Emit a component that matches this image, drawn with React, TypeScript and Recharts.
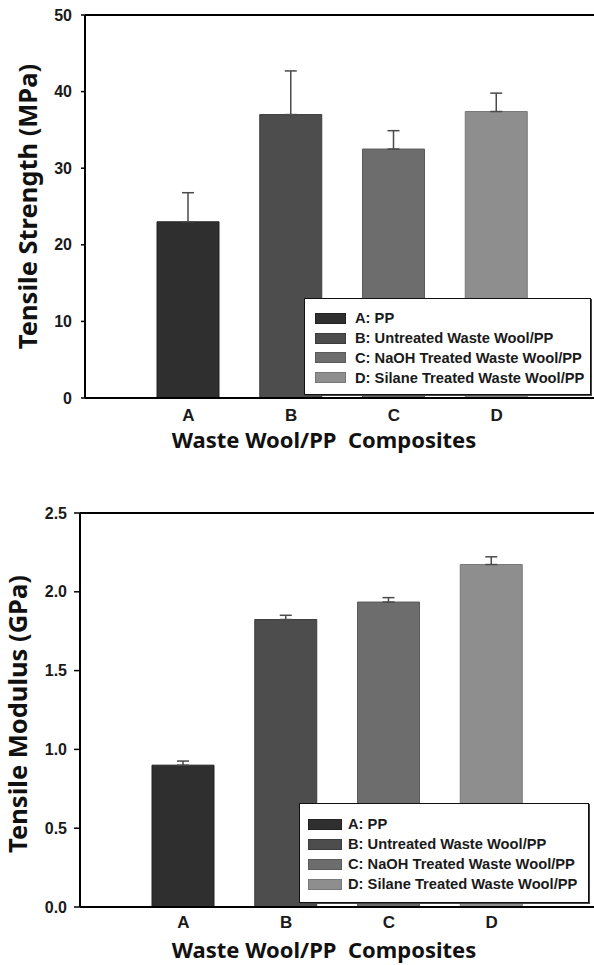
import React from 'react'
import {
	ComposedChart,
	Bar,
	Cell,
	ErrorBar,
	XAxis,
	YAxis,
	Legend,
	Label,
	ReferenceLine,
} from 'recharts'

const categories = ['A', 'B', 'C', 'D']
const legendLabels = [
	'A: PP',
	'B: Untreated Waste Wool/PP',
	'C: NaOH Treated Waste Wool/PP',
	'D: Silane Treated Waste Wool/PP',
]
const strengthValues = [23.0, 37.0, 32.5, 37.4]
const strengthErrors = [3.8, 5.7, 2.4, 2.4]
const strengthTicks = [0, 10, 20, 30, 40, 50]

const modulusValues = [0.9, 1.824, 1.935, 2.173]
const modulusErrors = [0.026, 0.027, 0.028, 0.049]
const modulusTicks = [0, 0.5, 1.0, 1.5, 2.0, 2.5]

const barColors = ['#2f2f2f', '#4d4d4d', '#6d6d6d', '#8e8e8e']
const barEdges = ['#222222', '#3c3c3c', '#5a5a5a', '#787878']

const NUM_FONT = '"Liberation Sans", Arial, sans-serif'
const TITLE_FONT = '"Noto Sans", "Open Sans", sans-serif'

interface LegendBoxProps {
	width: number
	height: number
	padTop: number
	padLeft: number
	rowH: number
	swatchW: number
	swatchH: number
	gap: number
}

function LegendBox({ width, height, padTop, padLeft, rowH, swatchW, swatchH, gap }: LegendBoxProps) {
	return (
		<div
			style={{
				width,
				height,
				boxSizing: 'border-box',
				background: '#fff',
				border: '1.5px solid #111',
				boxShadow: '1px 1px 0 #444',
				paddingTop: padTop - rowH / 2,
				paddingLeft: padLeft,
			}}
		>
			{legendLabels.map((l, i) => (
				<div
					key={l}
					style={{ display: 'flex', alignItems: 'center', height: rowH }}
				>
					<div
						style={{
							width: swatchW,
							height: swatchH,
							boxSizing: 'border-box',
							background: barColors[i],
							border: `1px solid ${barEdges[i]}`,
							marginRight: gap,
							flexShrink: 0,
						}}
					/>
					<span
						style={{
							fontFamily: NUM_FONT,
							fontWeight: 700,
							fontSize: 14.7,
							color: '#1a1a1a',
							whiteSpace: 'nowrap',
						}}
					>
						{l}
					</span>
				</div>
			))}
		</div>
	)
}

interface PanelProps {
	values: number[]
	errors: number[]
	ticks: number[]
	yTitle: string
	height: number
	top: number
	yAxisW: number
	bottomH: number
	tickSize: number
	tickMargin: number
	catMargin: number
	yTitleDx: number
	yTitleDy: number
	xTitleDx: number
	xTitleDy: number
	decimals: number
	legend: { left: number; top: number } & LegendBoxProps
}

function Panel(p: PanelProps) {
	const data = categories.map((c, i) => ({
		cat: c,
		value: p.values[i],
		err: [0, p.errors[i]],
	}))
	const max = p.ticks[p.ticks.length - 1]
	return (
		<ComposedChart
			width={620}
			height={p.height}
			data={data}
			margin={{ top: p.top, right: 620 - p.yAxisW - 514, bottom: 0, left: 0 }}
		>
			<XAxis
				dataKey='cat'
				height={p.bottomH}
				padding={{ left: 52, right: 51 }}
				axisLine={{ stroke: '#000', strokeWidth: 2 }}
				tickLine={false}
				tickSize={0}
				tickMargin={p.catMargin}
				tick={{ fontFamily: NUM_FONT, fontWeight: 700, fontSize: 17, fill: '#1a1a1a' }}
			>
				<Label
					value={'Waste Wool/PP\u00a0 Composites'}
					position='center'
					dx={p.xTitleDx}
					dy={p.xTitleDy}
					style={{
						fontFamily: TITLE_FONT,
						fontWeight: 700,
						fontSize: 22,
						fill: '#111',
					}}
				/>
			</XAxis>
			<YAxis
				width={p.yAxisW}
				domain={[0, max]}
				ticks={p.ticks}
				interval={0}
				tickFormatter={(v: number) => v.toFixed(p.decimals)}
				axisLine={{ stroke: '#000', strokeWidth: 2 }}
				tickLine={{ stroke: '#000', strokeWidth: 1.5 }}
				tickSize={p.tickSize}
				tickMargin={p.tickMargin}
				tick={{ fontFamily: NUM_FONT, fontWeight: 700, fontSize: 16, fill: '#1a1a1a' }}
			>
				<Label
					value={p.yTitle}
					angle={-90}
					position='center'
					dx={p.yTitleDx}
					dy={p.yTitleDy}
					style={{
						fontFamily: TITLE_FONT,
						fontWeight: 700,
						fontSize: 25.5,
						fill: '#111',
					}}
				/>
			</YAxis>
			<ReferenceLine y={max} stroke='#000' strokeWidth={2} />
			<Bar dataKey='value' barSize={62} strokeWidth={1} isAnimationActive={false}>
				{data.map((d, i) => (
					<Cell key={d.cat} fill={barColors[i]} stroke={barEdges[i]} />
				))}
				<ErrorBar
					dataKey='err'
					width={6}
					stroke='#4a4a4a'
					strokeWidth={1.5}
					isAnimationActive={false}
				/>
			</Bar>
			<Legend
				layout='vertical'
				align='center'
				verticalAlign='middle'
				wrapperStyle={{
					position: 'absolute',
					left: p.legend.left,
					top: p.legend.top,
					width: p.legend.width,
					height: p.legend.height,
				}}
				content={() => <LegendBox {...p.legend} />}
			/>
		</ComposedChart>
	)
}

export default function App() {
	return (
		<div
			style={{
				position: 'absolute',
				left: 0,
				top: 0,
				width: 594,
				height: 965,
				overflow: 'hidden',
				background: '#fff',
			}}
		>
			<Panel
				values={strengthValues}
				errors={strengthErrors}
				ticks={strengthTicks}
				yTitle='Tensile Strength (MPa)'
				height={470}
				top={15}
				yAxisW={85}
				bottomH={72}
				tickSize={4}
				tickMargin={9}
				catMargin={11}
				yTitleDx={-15}
				yTitleDy={0}
				xTitleDx={-18}
				xTitleDy={6}
				decimals={0}
				legend={{
					left: 304,
					top: 298,
					width: 287,
					height: 97,
					padTop: 19.5,
					padLeft: 10,
					rowH: 19.7,
					swatchW: 31,
					swatchH: 11,
					gap: 9,
				}}
			/>
			<Panel
				values={modulusValues}
				errors={modulusErrors}
				ticks={modulusTicks}
				yTitle='Tensile Modulus (GPa)'
				height={495}
				top={43}
				yAxisW={80}
				bottomH={58}
				tickSize={6}
				tickMargin={7}
				catMargin={9}
				yTitleDx={-22}
				yTitleDy={4}
				xTitleDx={-13}
				xTitleDy={14}
				decimals={1}
				legend={{
					left: 299,
					top: 333,
					width: 290,
					height: 100,
					padTop: 20,
					padLeft: 8,
					rowH: 20,
					swatchW: 34,
					swatchH: 11,
					gap: 6,
				}}
			/>
		</div>
	)
}
